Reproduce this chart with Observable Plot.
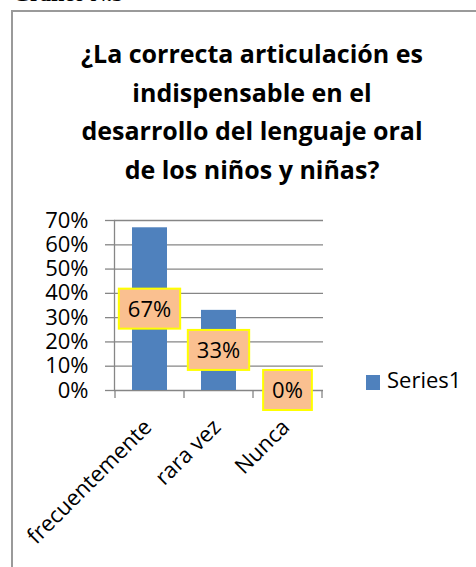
<!DOCTYPE html>
<html>
<head>
<meta charset="utf-8">
<script src="https://cdn.jsdelivr.net/npm/d3@7"></script>
<script src="https://cdn.jsdelivr.net/npm/@observablehq/plot@0.6"></script>
<style>
  html, body { margin: 0; padding: 0; background: #fff; }
  body { width: 476px; height: 567px; overflow: hidden; position: relative; font-family: "Open Sans", sans-serif; color: #000; }
  #hdr { position: absolute; left: 13px; top: -17px; font: bold 22px/22px "Liberation Serif", serif; white-space: nowrap; }
  #box { position: absolute; left: 11px; top: 10px; width: 520px; height: 620px; border: 2px solid #9a9a9a; box-sizing: border-box; }
  #title { position: absolute; left: 0; top: 34px; width: 504px; text-align: center; font-weight: 700; font-size: 25px; line-height: 38.5px; }
  #chart { position: absolute; left: 0; top: 200px; }
  #legend { position: absolute; left: 366px; top: 368px; display: flex; align-items: center; font-size: 22px; line-height: 22px; }
  #legend .sw { width: 14px; height: 15px; background: #4F81BD; margin-right: 7px; margin-top: 6px; }
</style>
</head>
<body>
<div id="hdr">Gráfico N.5</div>
<div id="box"></div>
<div id="title">¿La correcta articulación es<br>indispensable en el<br>desarrollo del lenguaje oral<br>de los niños y niñas?</div>
<div id="chart"></div>
<div id="legend"><div class="sw"></div><span>Series1</span></div>
<script>
const categories = ["frecuentemente", "rara vez", "Nunca"];
const values = [0.67, 0.33, 0];
const labels = ["67%", "33%", "0%"];
const yTicks = [0, 0.1, 0.2, 0.3, 0.4, 0.5, 0.6, 0.7];
const seriesName = "Series1";

const data = categories.map((c, i) => ({cat: c, value: values[i], label: labels[i]}));

const gridColor = "#868686";
const barColor = "#4F81BD";
const boxFill = "#FAC090";
const boxStroke = "#FFFF00";
const fontFamily = "'Open Sans', sans-serif";

const W = 476, H = 367;

function catTicks(index, scales) {
  const x = scales.x, y = scales.y;
  const bw = x.bandwidth(), st = x.step();
  const edges = categories.map(c => x(c) + bw / 2 - st / 2);
  edges.push(x(categories[categories.length - 1]) + bw / 2 + st / 2);
  const y0 = y(0);
  const g = d3.create("svg:g").attr("stroke", gridColor).attr("stroke-width", 1.3);
  g.selectAll("line").data(edges).join("line")
    .attr("x1", d => d).attr("x2", d => d)
    .attr("y1", y0).attr("y2", y0 + 8);
  return g.node();
}

const ctx = document.createElement("canvas").getContext("2d");
ctx.font = "22px 'Open Sans'";

function labelBoxes(index, scales) {
  const x = scales.x, y = scales.y;
  const bw = x.bandwidth();
  const g = d3.create("svg:g");
  data.forEach(d => {
    const cx = x(d.cat) + bw / 2;
    const cy = y(d.value / 2);
    const tw = ctx.measureText(d.label).width;
    const bwid = tw + 18, bh = 40;
    g.append("rect")
      .attr("x", cx - bwid / 2).attr("y", cy - bh / 2)
      .attr("width", bwid).attr("height", bh)
      .attr("fill", boxFill).attr("stroke", boxStroke).attr("stroke-width", 2);
    g.append("text")
      .attr("x", cx).attr("y", cy).attr("dy", "0.36em")
      .attr("text-anchor", "middle")
      .attr("font-family", fontFamily).attr("font-size", 22)
      .attr("fill", "#000")
      .text(d.label);
  });
  return g.node();
}

const chart = Plot.plot({
  width: W,
  height: H,
  marginTop: 20,
  marginBottom: 177,
  marginLeft: 114,
  marginRight: 153,
  style: {fontFamily: fontFamily, background: "transparent", overflow: "visible"},
  x: {domain: categories, paddingInner: 0.5, paddingOuter: 0.25, axis: null},
  y: {domain: [0, 0.7], axis: null},
  marks: [
    Plot.gridY(yTicks, {stroke: gridColor, strokeOpacity: 1, strokeWidth: 1.3}),
    Plot.axisY(yTicks, {label: null, tickSize: 9, tickPadding: 17, stroke: gridColor, strokeWidth: 1.3, fill: "#000", fontSize: 22, tickFormat: d3.format(".0%")}),
    Plot.barY(data, {x: "cat", y: "value", fill: barColor}),
    Plot.frame({anchor: "left", stroke: gridColor, strokeWidth: 1.3}),
    catTicks,
    labelBoxes,
    Plot.text(categories, {x: d => d, frameAnchor: "bottom", rotate: -45, textAnchor: "end", lineAnchor: "middle", fontSize: 22, fill: "#000", dx: -2, dy: 33})
  ]
});
document.getElementById("chart").appendChild(chart);
document.querySelector("#legend span").textContent = seriesName;
</script>
</body>
</html>
